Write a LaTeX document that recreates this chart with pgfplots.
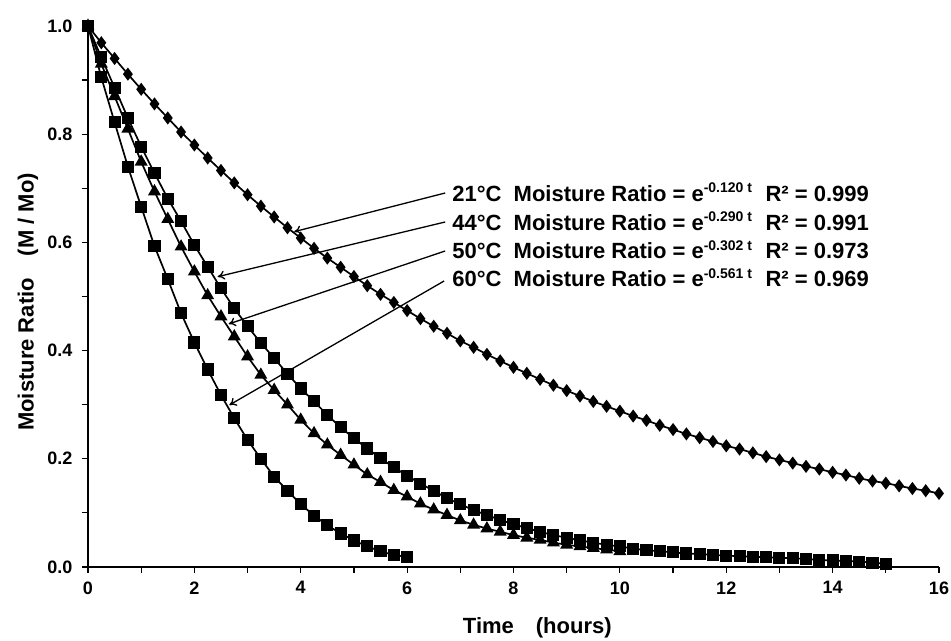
\documentclass[border=0pt]{standalone}
\usepackage{fontspec}
\setmainfont{Liberation Sans}
\usepackage{pgfplots}
\pgfplotsset{compat=1.18}
\usetikzlibrary{arrows.meta}
\newcommand{\expsup}[1]{\raisebox{8.5pt}{\fontsize{14}{14}\selectfont\bfseries #1}}

\begin{document}
\begin{tikzpicture}
\begin{axis}[
  width=851pt, height=541pt, scale only axis,
  xmin=0, xmax=16, ymin=0, ymax=1,
  axis x line*=bottom, axis y line*=left,
  axis line style={line width=1.6pt, -},
  xtick={0,2,4,6,8,10,12,14,16}, minor xtick={1,3,5,7,9,11,13,15},
  ytick={0,0.2,0.4,0.6,0.8,1.0}, minor ytick={0.1,0.3,0.5,0.7,0.9},
  tick align=outside, major tick length=6pt, minor tick length=6pt,
  every tick/.style={line width=1.2pt, black},
  minor tick style={line width=1.2pt, black},
  /pgf/number format/assume math mode=true,
  ticklabel style={font=\fontsize{18}{21}\selectfont\bfseries},
  yticklabel style={xshift=-6pt, /pgf/number format/fixed, /pgf/number format/fixed zerofill, /pgf/number format/precision=1},
  xticklabel style={yshift=-5pt},
  xlabel={Time\quad(hours)},
  ylabel={Moisture Ratio\quad(M / Mo)},
  label style={font=\fontsize{22}{24}\selectfont\bfseries},
  xlabel style={at={(axis description cs:0.528,-0.1128)}, anchor=center},
  ylabel style={at={(axis description cs:-0.0705,0.49)}, anchor=center},
  clip=false,
]
% 60 C
\addplot[black, line width=1.7pt, mark=square*, mark size=5.2pt, mark options={solid, fill=black}] coordinates {
(0,1.000)(0.25,0.905)(0.5,0.822)(0.75,0.740)(1,0.666)(1.25,0.593)(1.5,0.532)(1.75,0.469)
(2,0.415)(2.25,0.365)(2.5,0.318)(2.75,0.275)(3,0.235)(3.25,0.200)(3.5,0.167)(3.75,0.141)
(4,0.116)(4.25,0.095)(4.5,0.077)(4.75,0.062)(5,0.049)(5.25,0.038)(5.5,0.029)(5.75,0.022)(6,0.019)};
% 50 C
\addplot[black, line width=1.7pt, mark=triangle*, mark size=5.8pt, mark options={solid, fill=black}] coordinates {
(0,1.000)(0.25,0.930)(0.5,0.870)(0.75,0.810)(1,0.749)(1.25,0.694)(1.5,0.643)(1.75,0.592)
(2,0.546)(2.25,0.502)(2.5,0.463)(2.75,0.426)(3,0.389)(3.25,0.355)(3.5,0.327)(3.75,0.300)
(4,0.272)(4.25,0.247)(4.5,0.226)(4.75,0.207)(5,0.189)(5.25,0.171)(5.5,0.157)(5.75,0.142)
(6,0.130)(6.25,0.117)(6.5,0.106)(6.75,0.096)(7,0.086)(7.25,0.078)(7.5,0.071)(7.75,0.065)
(8,0.059)(8.25,0.054)(8.5,0.050)(8.75,0.045)(9,0.041)(9.25,0.038)(9.5,0.035)(9.75,0.032)(10,0.029)};
% 44 C
\addplot[black, line width=1.7pt, mark=square*, mark size=5.2pt, mark options={solid, fill=black}] coordinates {
(0,1.000)(0.25,0.942)(0.5,0.886)(0.75,0.830)(1,0.777)(1.25,0.728)(1.5,0.681)(1.75,0.639)
(2,0.595)(2.25,0.555)(2.5,0.515)(2.75,0.478)(3,0.445)(3.25,0.414)(3.5,0.386)(3.75,0.357)
(4,0.330)(4.25,0.306)(4.5,0.281)(4.75,0.258)(5,0.238)(5.25,0.219)(5.5,0.201)(5.75,0.184)
(6,0.169)(6.25,0.154)(6.5,0.141)(6.75,0.127)(7,0.116)(7.25,0.105)(7.5,0.096)(7.75,0.087)
(8,0.079)(8.25,0.072)(8.5,0.065)(8.75,0.059)(9,0.054)(9.25,0.049)(9.5,0.045)(9.75,0.041)
(10,0.038)(10.25,0.034)(10.5,0.031)(10.75,0.029)(11,0.027)(11.25,0.025)(11.5,0.024)(11.75,0.022)
(12,0.021)(12.25,0.020)(12.5,0.019)(12.75,0.018)(13,0.017)(13.25,0.016)(13.5,0.015)(13.75,0.013)
(14,0.012)(14.25,0.011)(14.5,0.010)(14.75,0.008)(15,0.006)};
% 21 C
\addplot[black, line width=1.7pt, mark=diamond*, mark size=5.2pt, mark options={solid, fill=black}] coordinates {
(0,1.000)(0.25,0.969)(0.5,0.940)(0.75,0.911)(1,0.883)(1.25,0.856)(1.5,0.830)(1.75,0.804)
(2,0.780)(2.25,0.756)(2.5,0.733)(2.75,0.710)(3,0.688)(3.25,0.667)(3.5,0.647)(3.75,0.627)
(4,0.608)(4.25,0.589)(4.5,0.571)(4.75,0.554)(5,0.537)(5.25,0.520)(5.5,0.504)(5.75,0.489)
(6,0.474)(6.25,0.459)(6.5,0.445)(6.75,0.432)(7,0.418)(7.25,0.406)(7.5,0.393)(7.75,0.381)
(8,0.369)(8.25,0.358)(8.5,0.347)(8.75,0.336)(9,0.326)(9.25,0.316)(9.5,0.306)(9.75,0.297)
(10,0.288)(10.25,0.279)(10.5,0.271)(10.75,0.262)(11,0.254)(11.25,0.246)(11.5,0.239)(11.75,0.232)
(12,0.224)(12.25,0.218)(12.5,0.211)(12.75,0.204)(13,0.198)(13.25,0.192)(13.5,0.186)(13.75,0.181)
(14,0.175)(14.25,0.170)(14.5,0.164)(14.75,0.159)(15,0.155)(15.25,0.150)(15.5,0.145)(15.75,0.141)(16,0.136)};

% annotation arrows
\draw[line width=1.3pt, -{To[length=7pt,width=9pt]}] (axis cs:6.715,0.6913) -- (axis cs:3.877,0.6198);
\draw[line width=1.3pt, -{To[length=7pt,width=9pt]}] (axis cs:6.715,0.6377) -- (axis cs:2.438,0.5366);
\draw[line width=1.3pt, -{To[length=7pt,width=9pt]}] (axis cs:6.715,0.5841) -- (axis cs:2.645,0.4492);
\draw[line width=1.3pt, -{To[length=7pt,width=9pt]}] (axis cs:6.696,0.5287) -- (axis cs:2.658,0.2994);

% annotation text
\tikzset{ann/.style={anchor=base west, inner sep=0pt, font=\fontsize{22}{25}\selectfont\bfseries}}
\node[ann] at (axis cs:6.846,0.6756) {21°C\ \ Moisture Ratio = e\expsup{-0.120 t}};
\node[ann] at (axis cs:6.846,0.6229) {44°C\ \ Moisture Ratio = e\expsup{-0.290 t}};
\node[ann] at (axis cs:6.846,0.5702) {50°C\ \ Moisture Ratio = e\expsup{-0.302 t}};
\node[ann] at (axis cs:6.846,0.5176) {60°C\ \ Moisture Ratio = e\expsup{-0.561 t}};
\node[ann] at (axis cs:12.736,0.6756) {R² = 0.999};
\node[ann] at (axis cs:12.736,0.6229) {R² = 0.991};
\node[ann] at (axis cs:12.736,0.5702) {R² = 0.973};
\node[ann] at (axis cs:12.736,0.5176) {R² = 0.969};

\path (rel axis cs:0,0) ++(-88pt,-74pt) coordinate (bbl);
\path (rel axis cs:1,1) ++(12pt,26pt) coordinate (btr);
\end{axis}
\pgfresetboundingbox
\path[use as bounding box] (bbl) rectangle (btr);
\end{tikzpicture}
\end{document}
